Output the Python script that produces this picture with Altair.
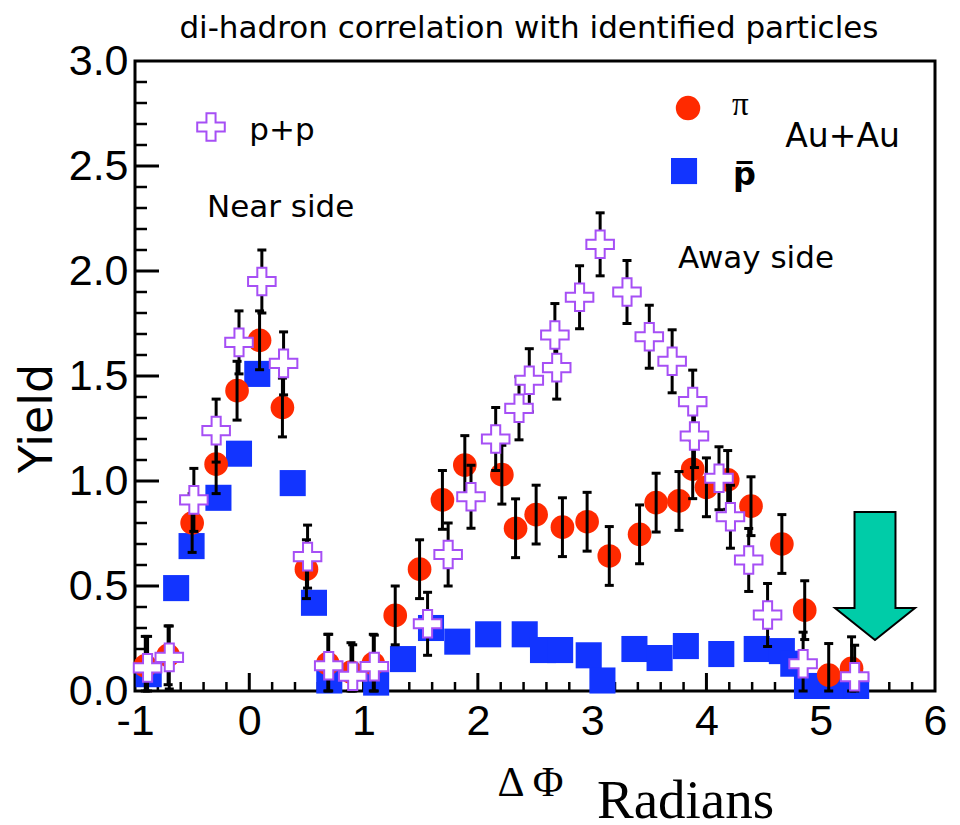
import altair as alt
import pandas as pd

# ---------------- data ----------------
# p+p (open purple crosses)
pp_x = [-0.89, -0.70, -0.485, -0.29, -0.09, 0.11, 0.30, 0.51, 0.695, 0.905,
        1.094, 1.56, 1.74, 1.94, 2.156, 2.36, 2.45, 2.674, 2.69, 2.89,
        3.07, 3.305, 3.50, 3.70, 3.88, 3.895, 4.11, 4.21, 4.37, 4.535,
        4.846, 5.297]
pp_y = [0.11, 0.16, 0.91, 1.24, 1.66, 1.95, 1.56, 0.64, 0.12, 0.07,
        0.116, 0.32, 0.65, 0.925, 1.20, 1.346, 1.48, 1.695, 1.54, 1.875,
        2.127, 1.90, 1.687, 1.57, 1.378, 1.214, 1.013, 0.83, 0.624, 0.362,
        0.13, 0.068]
pp_err = [0.15, 0.15, 0.15, 0.15, 0.15, 0.15, 0.15, 0.15, 0.15, 0.15,
          0.15, 0.15, 0.15, 0.15, 0.15, 0.15, 0.15, 0.15, 0.15, 0.15,
          0.15, 0.15, 0.15, 0.15, 0.15, 0.15, 0.15, 0.15, 0.15, 0.15,
          0.15, 0.15]

# Au+Au pi (red circles)
pi_x = [-0.91, -0.71, -0.50, -0.29, -0.107, 0.09, 0.29, 0.50, 0.687, 0.89,
        1.085, 1.277, 1.49, 1.69, 1.886, 2.21, 2.33, 2.51, 2.74, 2.956,
        3.15, 3.415, 3.56, 3.76, 3.88, 4.00, 4.186, 4.39, 4.66, 4.86,
        5.07, 5.27]
pi_y = [0.12, 0.17, 0.80, 1.08, 1.43, 1.67, 1.35, 0.58, 0.13, 0.09,
        0.13, 0.36, 0.58, 0.91, 1.076, 1.03, 0.775, 0.84, 0.78, 0.806,
        0.643, 0.746, 0.897, 0.905, 1.056, 0.97, 1.005, 0.88, 0.70, 0.385,
        0.076, 0.108]
pi_err = [0.14, 0.14, 0.14, 0.14, 0.14, 0.14, 0.14, 0.14, 0.14, 0.14,
          0.14, 0.14, 0.14, 0.14, 0.14, 0.14, 0.14, 0.14, 0.14, 0.14,
          0.14, 0.14, 0.14, 0.14, 0.14, 0.14, 0.14, 0.14, 0.14, 0.14,
          0.15, 0.15]

# Au+Au anti-proton (blue squares)
pbar_x = [-0.88, -0.64, -0.505, -0.27, -0.09, 0.07, 0.38, 0.566, 0.70, 1.11,
          1.345, 1.59, 1.82, 2.09, 2.41, 2.57, 2.72, 2.97, 3.09, 3.37,
          3.59, 3.82, 4.13, 4.44, 4.66, 4.76, 4.88, 5.09, 5.31]
pbar_y = [0.08, 0.49, 0.69, 0.92, 1.13, 1.51, 0.99, 0.42, 0.05, 0.04,
          0.152, 0.30, 0.235, 0.27, 0.27, 0.195, 0.195, 0.17, 0.05, 0.20,
          0.157, 0.214, 0.176, 0.20, 0.19, 0.13, 0.024, 0.024, 0.024]

# axes
x_labels = [-1, 0, 1, 2, 3, 4, 5, 6]
y_labels = [0.0, 0.5, 1.0, 1.5, 2.0, 2.5, 3.0]
x_major_ticks = [0, 1, 2, 3, 4, 5]
x_minor_ticks = [round(-1 + 0.2 * i, 1) for i in range(1, 35) if i % 5 != 0]
y_major_ticks = [0.5, 1.0, 1.5, 2.0, 2.5]
y_minor_ticks = [round(0.1 * i, 1) for i in range(1, 30) if i % 5 != 0]

# annotations (data units)
title_text = ["di-hadron correlation with identified particles"]
title_x, title_y = [2.447], [3.11]
sans_text = ["p+p", "Near side", "Away side"]
sans_x = [0.0, -0.37, 3.751]
sans_y = [2.624, 2.257, 2.014]
auau_text = ["Au+Au"]
auau_x, auau_y = [4.69], [2.59]
pi_label = ["π"]
pi_label_x = [4.224]
pi_label_y = [2.743]
pbar_label = ["p̅"]
pbar_label_x = [4.232]
pbar_label_y = [2.41]
unit_label = ["Radians"]
unit_label_x = [3.042]
unit_label_y = [-0.605]
leg_cross_x, leg_cross_y = [-0.335], [2.686]
leg_circle_x, leg_circle_y = [3.839], [2.776]
leg_square_x, leg_square_y = [3.804], [2.476]
arrow_x, arrow_y = [5.475], [0.548]

# ---------------- chart ----------------
W, H = 800, 630
RED = "#ff2a00"
BLUE = "#1234ff"
PURPLE = "#a64ff5"
TEAL = "#00cca8"

xs = alt.Scale(domain=[-1, 6], nice=False, zero=False)
ys = alt.Scale(domain=[0, 3], nice=False, zero=False)

x_axis = alt.Axis(values=x_labels, ticks=False, tickSize=0, domain=False, grid=False,
                  labelFont="Liberation Sans", labelFontSize=43, labelColor="black",
                  labelPadding=9, labelFlush=False, labelOverlap=False,
                  labelExpr="'' + datum.value",
                  title="Δ Φ", titleFont="Liberation Serif", titleFontSize=42,
                  titleFontWeight="normal", titleColor="black",
                  titleX=395, titleY=104, titleAlign="center", titleBaseline="alphabetic")
y_axis = alt.Axis(values=y_labels, ticks=False, tickSize=0, domain=False, grid=False,
                  labelFont="Liberation Sans", labelFontSize=43, labelColor="black",
                  labelPadding=7, labelFlush=False, labelOverlap=False, format=".1f",
                  title="Yield", titleFont="DejaVu Sans", titleFontSize=46,
                  titleFontWeight="normal", titleColor="black", titleAngle=270,
                  titleX=-98, titleY=357, titleAlign="center", titleBaseline="middle")


def X(f="x"):
    return alt.X(f"{f}:Q", scale=xs, axis=x_axis)


def Y(f="y"):
    return alt.Y(f"{f}:Q", scale=ys, axis=y_axis)


pp_df = pd.DataFrame({"x": pp_x, "y": pp_y, "e": pp_err})
pi_df = pd.DataFrame({"x": pi_x, "y": pi_y, "e": pi_err})
pbar_df = pd.DataFrame({"x": pbar_x, "y": pbar_y})

# tick marks (drawn inward)
xmin_t = alt.Chart(pd.DataFrame({"x": x_minor_ticks})).mark_rule(color="black", strokeWidth=2.5).encode(
    x=X(), y=alt.value(H), y2=alt.value(H - 9))
xmaj_t = alt.Chart(pd.DataFrame({"x": x_major_ticks})).mark_rule(color="black", strokeWidth=3).encode(
    x=X(), y=alt.value(H), y2=alt.value(H - 18))
ymin_t = alt.Chart(pd.DataFrame({"y": y_minor_ticks})).mark_rule(color="black", strokeWidth=2.5).encode(
    y=Y(), x=alt.value(0), x2=alt.value(12))
ymaj_t = alt.Chart(pd.DataFrame({"y": y_major_ticks})).mark_rule(color="black", strokeWidth=3).encode(
    y=Y(), x=alt.value(0), x2=alt.value(24))

squares = alt.Chart(pbar_df).mark_point(shape="square", filled=True, color=BLUE, size=680,
                                        opacity=1, strokeWidth=0).encode(x=X(), y=Y())
circles = alt.Chart(pi_df).mark_point(shape="circle", filled=True, color=RED, size=560,
                                      opacity=1, strokeWidth=0).encode(x=X(), y=Y())


def errbars(df):
    base = alt.Chart(df).transform_calculate(
        lo="max(0, datum.y - datum.e)", hi="datum.y + datum.e")
    rule = base.mark_rule(color="black", strokeWidth=3).encode(x=X(), y=Y("lo"), y2="hi:Q")
    cap_lo = base.mark_tick(orient="horizontal", color="black", size=9, thickness=3,
                            opacity=1).encode(x=X(), y=Y("lo"))
    cap_hi = base.mark_tick(orient="horizontal", color="black", size=9, thickness=3,
                            opacity=1).encode(x=X(), y=Y("hi"))
    return [rule, cap_lo, cap_hi]


CROSS = ("M -0.33 -1 L 0.33 -1 L 0.33 -0.33 L 1 -0.33 L 1 0.33 L 0.33 0.33 "
         "L 0.33 1 L -0.33 1 L -0.33 0.33 L -1 0.33 L -1 -0.33 L -0.33 -0.33 Z")
ARROW = "M -0.32 -1 L 0.32 -1 L 0.32 0.5 L 0.625 0.5 L 0 1 L -0.625 0.5 L -0.32 0.5 Z"

crosses = alt.Chart(pp_df).mark_point(shape=CROSS, filled=False, fill="white", fillOpacity=1,
                                      stroke=PURPLE, strokeWidth=2, size=760,
                                      opacity=1).encode(x=X(), y=Y())

leg_cross = alt.Chart(pd.DataFrame({"x": leg_cross_x, "y": leg_cross_y})).mark_point(
    shape=CROSS, filled=False, fill="white", fillOpacity=1, stroke=PURPLE, strokeWidth=2,
    size=760, opacity=1).encode(x=X(), y=Y())
leg_circle = alt.Chart(pd.DataFrame({"x": leg_circle_x, "y": leg_circle_y})).mark_point(
    shape="circle", filled=True, color=RED, size=600, opacity=1, strokeWidth=0).encode(x=X(), y=Y())
leg_square = alt.Chart(pd.DataFrame({"x": leg_square_x, "y": leg_square_y})).mark_point(
    shape="square", filled=True, color=BLUE, size=680, opacity=1, strokeWidth=0).encode(x=X(), y=Y())

arrow = alt.Chart(pd.DataFrame({"x": arrow_x, "y": arrow_y})).mark_point(
    shape=ARROW, filled=True, fill=TEAL, stroke="black", strokeWidth=2, size=16384,
    opacity=1).encode(x=X(), y=Y())

title_txt = alt.Chart(pd.DataFrame({"t": title_text, "x": title_x, "y": title_y})).mark_text(
    font="DejaVu Sans", fontSize=31, color="black", align="center", baseline="alphabetic").encode(
    x=X(), y=Y(), text="t:N")
sans = alt.Chart(pd.DataFrame({"t": sans_text, "x": sans_x, "y": sans_y})).mark_text(
    font="DejaVu Sans", fontSize=31, color="black", align="left", baseline="alphabetic").encode(
    x=X(), y=Y(), text="t:N")
auau = alt.Chart(pd.DataFrame({"t": auau_text, "x": auau_x, "y": auau_y})).mark_text(
    font="DejaVu Sans", fontSize=33, color="black", align="left", baseline="alphabetic").encode(
    x=X(), y=Y(), text="t:N")
pi_txt = alt.Chart(pd.DataFrame({"t": pi_label, "x": pi_label_x, "y": pi_label_y})).mark_text(
    font="Liberation Serif", fontSize=33, color="black", align="left", baseline="alphabetic").encode(
    x=X(), y=Y(), text="t:N")
pbar_txt = alt.Chart(pd.DataFrame({"t": pbar_label, "x": pbar_label_x, "y": pbar_label_y})).mark_text(
    font="DejaVu Sans", fontSize=32, fontWeight="bold", color="black", align="left",
    baseline="alphabetic").encode(x=X(), y=Y(), text="t:N")
unit_txt = alt.Chart(pd.DataFrame({"t": unit_label, "x": unit_label_x, "y": unit_label_y})).mark_text(
    font="Liberation Serif", fontSize=55, color="black", align="left", baseline="alphabetic").encode(
    x=X(), y=Y(), text="t:N")

layers = [xmin_t, xmaj_t, ymin_t, ymaj_t, squares, circles] + errbars(pi_df) + errbars(pp_df) + [
    crosses, leg_cross, leg_circle, leg_square, arrow, title_txt, sans, auau, pi_txt, pbar_txt,
    unit_txt]

chart = alt.layer(*layers).properties(
    width=W, height=H,
    padding={"left": 135, "top": 61, "right": 25, "bottom": 134},
    autosize=alt.AutoSizeParams(type="none"),
    background="white",
).configure_view(stroke="black", strokeWidth=3)

chart.save("out.html", embed_options={"renderer": "svg", "actions": False})
